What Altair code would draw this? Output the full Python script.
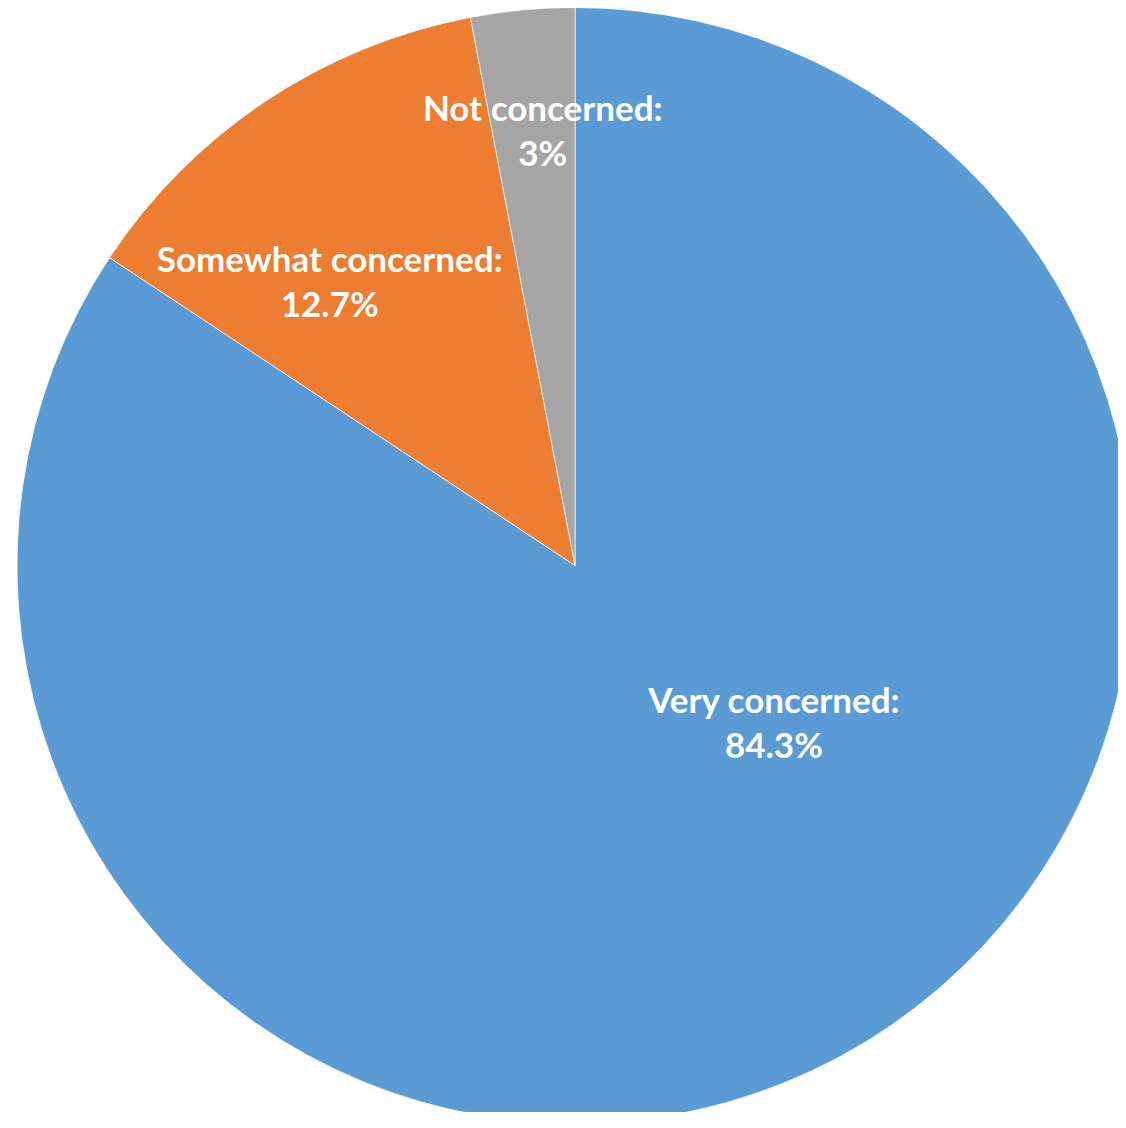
import altair as alt
import pandas as pd

categories = ["Very concerned", "Somewhat concerned", "Not concerned"]
values = [84.3, 12.7, 3]
order = [0, 1, 2]
colors = ["#5B9BD5", "#ED7D31", "#A5A5A5"]

df = pd.DataFrame({"category": categories, "value": values, "order": order})

theta_scale = alt.Scale(domain=[0, 100])
color_scale = alt.Scale(domain=categories, range=colors)

# pie centre inside the plot area
CX, CY = 567, 557.5

base = alt.Chart(df).transform_window(
    cum="sum(value)", sort=[alt.SortField("order")]
).transform_calculate(
    start="datum.cum - datum.value",
    mid="datum.cum - datum.value / 2",
    label="datum.category + ':\\n' + datum.value + '%'",
)

arcs = base.mark_arc(radius=558, stroke="white", strokeWidth=0.7).encode(
    theta=alt.Theta("start:Q", scale=theta_scale),
    theta2="cum:Q",
    color=alt.Color("category:N", scale=color_scale, legend=None),
    x=alt.value(CX),
    y=alt.value(CY),
)

label_style = {
    "Very concerned": dict(radius=230, dx=90, dy=-66),
    "Somewhat concerned": dict(radius=374, dx=-38, dy=7),
    "Not concerned": dict(radius=438, dx=9, dy=-19),
}

layers = [arcs]
for cat, st in label_style.items():
    layers.append(
        base.transform_filter(alt.datum.category == cat)
        .mark_text(
            font="Lato", fontWeight="bold", fontSize=35, color="white",
            lineBreak="\n", lineHeight=45, align="center", baseline="middle",
            radius=st["radius"], dx=st["dx"], dy=st["dy"],
        )
        .encode(
            theta=alt.Theta("mid:Q", scale=theta_scale),
            text="label:N",
            x=alt.value(CX),
            y=alt.value(CY),
        )
    )

chart = alt.layer(*layers).properties(
    width=1110, height=1104,
    padding={"left": 0, "top": 0, "right": 0, "bottom": 0},
    autosize=alt.AutoSizeParams(type="none"),
    background="white",
).configure_view(stroke=None)

chart.save("out.html", embed_options={"renderer": "svg", "actions": False})
